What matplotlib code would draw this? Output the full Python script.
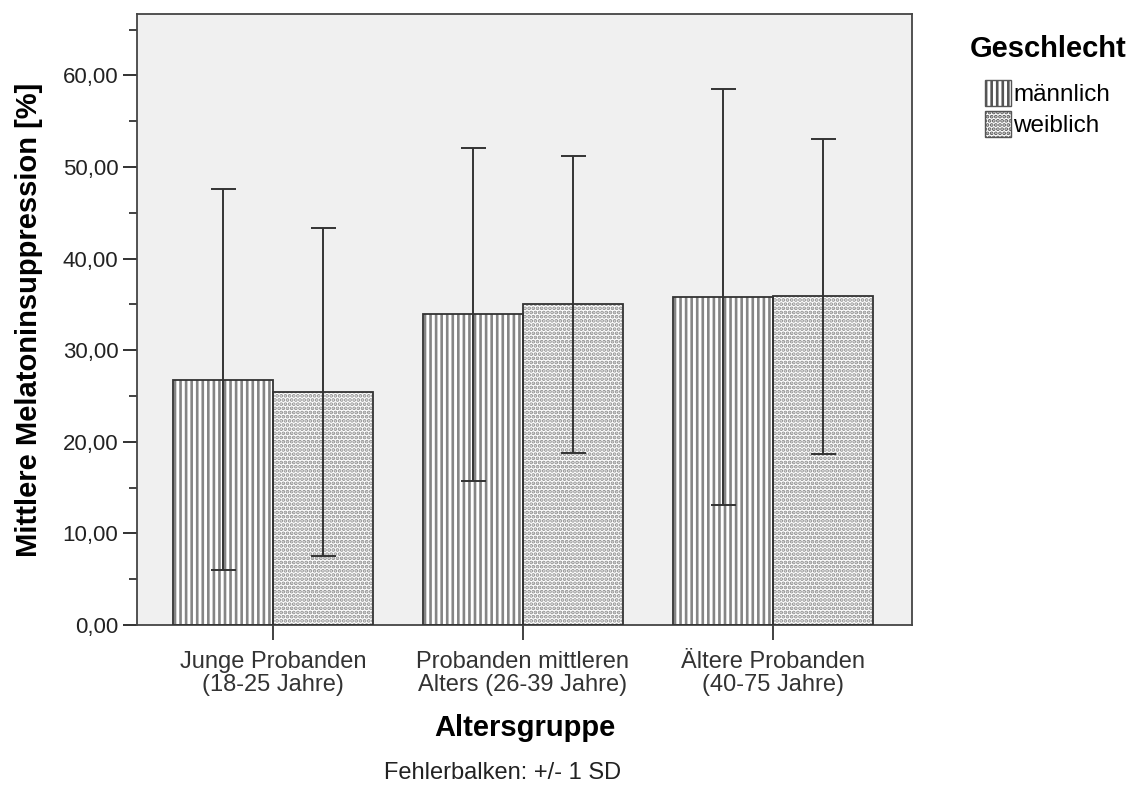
import numpy as np
import matplotlib
matplotlib.use('Agg')
from matplotlib import pyplot as plt
from matplotlib.patches import Patch

plt.rcParams['font.family'] = ['Liberation Sans', 'DejaVu Sans']
plt.rcParams['hatch.linewidth'] = 1.9

gruppen = ['Junge Probanden\n(18-25 Jahre)',
           'Probanden mittleren\nAlters (26-39 Jahre)',
           'Ältere Probanden\n(40-75 Jahre)']
geschlecht = ['männlich', 'weiblich']
mittel_m = [26.8, 33.9, 35.8]
sd_m = [20.8, 18.2, 22.7]
mittel_w = [25.4, 35.0, 35.9]
sd_w = [17.9, 16.2, 17.2]
yticks = [0, 10, 20, 30, 40, 50, 60]

fig = plt.figure(figsize=(11.36, 7.89), dpi=100)
ax = fig.add_axes([137/1136, 1-625/789, 775/1136, 611/789])
ax.set_facecolor('#f0f0f0')

x = np.arange(len(gruppen))
w = 0.4
hatches = ['|||', '....']
hatch_farbe = ['#858585', '#8f8f8f']
for k, (m, s) in enumerate([(mittel_m, sd_m), (mittel_w, sd_w)]):
    pos = x - w/2 + k*w
    # hatch layer (grey), then dark outline on top
    ax.bar(pos, m, w, color='white', edgecolor=hatch_farbe[k], hatch=hatches[k], linewidth=0, zorder=2)
    ax.bar(pos, m, w, fill=False, edgecolor='#333333', linewidth=1.3, zorder=3)
    ax.errorbar(pos, m, yerr=s, fmt='none', ecolor='#333333', elinewidth=1.4,
                capsize=9, capthick=1.4, zorder=4)

ax.set_xlim(-0.544, 2.556)
ax.set_ylim(0, 66.7)
ax.set_xticks(x)
ax.set_xticklabels(gruppen, fontsize=17, color='#222222', linespacing=1.05)
ax.set_yticks(yticks)
ax.set_yticks(np.arange(5, 70, 10), minor=True)
ax.yaxis.set_major_formatter(lambda v, p: f"{v:.2f}".replace('.', ','))
ax.tick_params(axis='y', labelsize=16, colors='#222222', length=10, width=1.3)
ax.tick_params(axis='y', which='minor', length=5.5, width=1.3, colors='#333333')
ax.tick_params(axis='x', length=11, width=1.3, colors='#333333', pad=8)
for sp in ax.spines.values():
    sp.set_color('#444444')
    sp.set_linewidth(1.3)

ax.set_xlabel('Altersgruppe', fontsize=21, fontweight='bold', labelpad=13)
ax.set_ylabel('Mittlere Melatoninsuppression [%]', fontsize=21, fontweight='bold', labelpad=14)

fig.text(503/1136, 1-773/789, 'Fehlerbalken: +/- 1 SD', fontsize=17, ha='center', va='center',
         color='#222222')

fig.text(1048/1136, 1-49/789, 'Geschlecht', fontsize=21, fontweight='bold', ha='center', va='center')
handles = [Patch(facecolor='white', edgecolor='#555555', hatch=h, linewidth=1) for h in hatches]
leg = ax.legend(handles, geschlecht, loc='upper left',
                bbox_to_anchor=(985/1136, 1-80/789), bbox_transform=fig.transFigure,
                frameon=False, fontsize=17.5, handlelength=1.05, handleheight=1.25,
                handletextpad=0.1, labelspacing=0.2, borderpad=0, borderaxespad=0)

fig.savefig('out.png', dpi=100)
